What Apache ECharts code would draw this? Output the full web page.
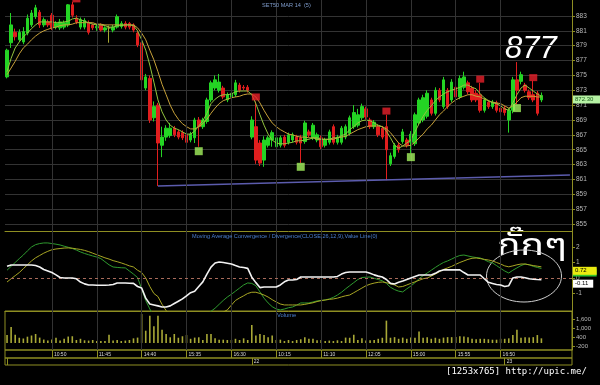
<!DOCTYPE html>
<html><head><meta charset="utf-8">
<script src="https://cdn.jsdelivr.net/npm/echarts@6/dist/echarts.min.js"></script>
<style>html,body{margin:0;padding:0;background:#000;}#c{width:600px;height:385px;}</style>
</head><body><div id="c"></div>
<script>
// ---- time axis (5-minute bars, TFEX sessions) ----
const sessions = [['09:55','12:25'],['14:30','16:50'],['09:45','12:25'],['14:30','16:50'],['09:45','10:30']];
const timeLabelIdx = [11,22,33,44,55,66,77,88,99,110,121];
const dayStarts = [0,60,122];
const dayLabels = ['','22','23'];
const padSlots = 7;

// ---- price bars ----
const opens = [874.8,879.4,880.8,879.8,879.5,880.7,881.8,882.9,883.5,881.8,
882.2,883.1,881.5,881.4,881.5,881.8,884.5,882.7,881.5,881.5,
882.1,881.8,881.4,881.8,881.1,881.4,881.1,881.5,881.6,882.0,
882.0,881.8,880.7,879.4,873.3,874.6,869.3,871.0,865.6,866.7,
866.9,867.9,867.4,867.3,867.0,866.3,866.6,869.0,868.1,868.8,
871.7,873.3,873.0,873.3,871.7,872.1,872.4,873.7,873.4,873.4,
866.7,868.1,865.9,863.6,865.6,866.3,865.4,865.6,866.7,866.0,
866.3,866.7,866.6,866.1,867.4,866.6,866.3,866.6,865.6,866.0,
868.1,866.0,866.0,866.7,867.2,868.1,868.3,869.3,870.5,869.0,
868.1,868.1,867.9,868.1,863.1,864.1,865.6,866.1,866.3,866.0,
865.8,868.6,869.0,869.5,871.7,869.9,873.0,870.8,873.0,871.7,
873.4,872.1,873.4,874.0,873.3,872.6,872.4,870.3,871.4,870.8,
871.3,870.6,870.6,869.0,870.3,874.4,874.2,873.7,872.8,872.4,
872.6,871.7];
const closes = [878.4,881.8,880.2,880.8,880.9,882.7,883.4,884.1,881.8,882.5,
881.8,881.4,882.0,882.2,882.1,884.5,883.1,882.2,882.5,882.4,
880.8,881.4,881.6,881.1,881.4,881.4,881.5,882.9,882.0,881.5,
881.5,881.1,879.1,874.4,874.8,869.0,870.8,865.9,866.7,867.9,
867.9,867.0,866.7,866.6,866.0,867.1,869.0,868.1,869.0,871.7,
874.0,874.4,874.1,872.1,872.4,872.6,874.0,873.0,873.3,873.0,
869.0,863.6,863.2,866.3,866.6,867.3,866.6,866.6,865.6,867.0,
867.0,866.0,865.9,868.6,867.0,868.3,867.0,865.4,866.3,867.4,
866.0,866.7,867.9,868.1,869.3,870.0,869.7,870.8,869.4,868.1,
868.7,867.0,866.7,865.0,864.2,865.6,865.0,867.4,865.6,867.1,
869.7,871.7,872.0,872.6,869.9,873.0,871.7,874.4,870.8,874.1,
872.1,874.6,874.8,872.8,871.7,871.7,870.3,871.7,870.8,871.4,
870.3,870.1,870.0,870.3,874.4,873.0,875.1,873.0,872.0,871.7,
869.9,872.3];
const highs = [878.6,883.4,881.3,881.2,881.5,883.2,883.8,884.5,883.8,882.8,
882.5,883.4,882.3,882.6,882.4,884.6,884.9,883.1,882.8,882.7,
882.4,882.0,881.9,882.0,881.6,881.7,881.8,883.2,882.3,882.3,
882.2,882.0,881.0,879.6,875.2,875.0,871.5,871.3,868.1,868.3,
868.6,868.2,867.7,867.6,867.2,867.4,869.3,869.4,869.3,872.0,
874.3,875.0,875.2,873.6,872.7,872.9,874.4,874.0,873.7,873.7,
869.5,871.5,866.3,866.8,866.9,867.6,866.9,866.9,867.0,867.3,
867.3,867.0,867.0,868.9,867.7,868.6,867.3,866.9,866.6,867.7,
868.4,867.0,868.2,868.4,869.6,871.0,870.5,871.2,870.8,869.3,
869.0,868.4,868.2,869.7,864.6,865.9,865.9,867.8,866.6,867.5,
870.0,872.0,872.4,873.0,872.0,873.4,873.3,874.8,873.3,874.5,
873.7,875.0,875.5,874.3,873.6,873.0,874.0,872.0,871.7,871.7,
871.6,870.9,870.9,870.6,874.8,876.8,875.5,874.0,873.1,874.3,
872.9,872.7];
const lows = [874.6,878.7,879.7,879.5,879.2,880.4,881.5,882.6,881.4,881.5,
881.5,881.1,881.2,881.1,881.2,881.5,882.8,881.9,881.2,881.2,
880.5,881.1,881.0,880.9,880.8,879.4,880.8,881.3,881.3,881.2,
881.2,880.8,878.8,874.0,873.0,868.6,868.8,860.1,864.0,866.2,
866.6,866.7,866.4,866.3,865.6,866.0,865.9,865.4,867.8,868.5,
871.4,873.0,872.7,871.8,871.4,871.8,872.1,872.7,873.0,872.7,
866.4,863.1,862.8,862.7,865.3,865.4,865.1,865.3,865.3,865.7,
866.0,865.7,863.2,865.8,866.7,866.3,866.0,865.1,865.3,865.7,
865.7,865.7,865.7,866.4,866.9,867.8,868.0,869.0,869.1,867.8,
867.8,866.7,866.4,860.9,862.8,863.8,864.6,865.8,865.3,864.5,
865.5,868.3,868.7,869.2,869.6,869.6,871.4,870.5,870.5,871.4,
871.8,871.8,873.1,872.5,871.4,871.4,870.0,870.0,870.5,870.5,
870.0,869.8,869.6,867.3,869.9,871.1,873.8,872.7,871.7,871.4,
869.6,871.4];
const maFast = [875.5,877.3,878.7,879.5,880.2,880.7,881.3,881.8,882.2,882.2,
882.2,882.2,882.1,882.1,882.2,882.3,882.6,882.7,882.5,882.3,
882.1,881.9,881.8,881.8,881.7,881.5,881.5,881.7,881.7,881.8,
881.8,881.7,881.0,879.8,878.4,876.4,874.1,871.7,870.1,869.0,
868.3,867.9,867.7,867.4,867.1,867.1,867.5,868.2,868.9,869.9,
871.2,871.8,872.2,872.4,872.4,872.5,872.8,872.9,872.9,872.9,
872.4,871.2,869.7,868.3,867.1,866.3,865.9,865.8,865.8,865.9,
866.0,866.2,866.2,866.3,866.4,866.6,866.6,866.4,866.4,866.4,
866.6,866.6,866.9,867.1,867.7,868.1,868.6,868.9,869.0,868.9,
868.6,868.3,868.1,867.5,866.6,865.6,865.2,865.5,865.9,866.3,
867.4,868.5,869.5,870.3,870.9,871.6,872.1,872.5,872.8,873.0,
873.2,873.4,873.7,873.7,873.4,873.2,872.5,872.0,871.6,871.3,
871.2,870.9,870.5,870.3,871.3,872.4,873.3,873.7,873.3,872.9,
872.5,872.2];
const maSlow = [875.1,876.0,876.9,877.9,878.7,879.2,879.8,880.3,880.7,881.0,
881.2,881.4,881.5,881.7,881.8,881.8,881.9,882.1,882.1,882.1,
882.1,882.1,881.9,881.9,881.8,881.8,881.8,881.8,881.8,881.8,
881.8,881.8,881.4,880.7,879.8,878.4,877.1,875.5,873.8,872.4,
871.0,869.9,869.1,868.5,868.1,867.8,867.8,868.1,868.5,869.1,
869.9,870.6,871.2,871.6,871.8,872.0,872.1,872.2,872.4,872.5,
872.5,872.1,871.3,870.3,869.4,868.6,868.1,867.7,867.4,867.1,
867.0,866.8,866.7,866.7,866.6,866.6,866.4,866.4,866.4,866.4,
866.4,866.6,866.7,866.8,867.1,867.4,867.7,867.9,868.1,868.2,
868.2,868.2,868.1,867.8,867.3,866.6,865.9,865.5,865.5,865.6,
866.0,866.6,867.1,867.8,868.3,869.0,869.7,870.2,870.8,871.3,
871.7,872.0,872.2,872.4,872.4,872.2,872.1,871.8,871.6,871.4,
871.3,871.2,870.9,870.6,870.9,871.4,872.0,872.2,872.2,872.2,
872.1,872.1];
const sellSignals = [[17,885.3],[61,872.1],[93,870.2],[116,874.5],[129,874.7]];
const buySignals = [[47,864.8],[72,862.7],[99,864.0],[125,870.6]];
const trendLine = [[37,860.1],[138,861.6]];
const lastPrice = 872.30;
const priceTicks = [855,857,859,861,863,865,867,869,871,873,875,877,879,881,883];

// ---- MACD panel ----
const macdWhite = [0.75,0.84,0.84,0.84,0.84,0.84,0.84,0.80,0.71,0.55,
0.45,0.35,0.20,0.03,0.00,0.00,0.00,-0.05,-0.26,-0.38,
-0.45,-0.45,-0.47,-0.47,-0.47,-0.45,-0.42,-0.32,-0.32,-0.32,
-0.34,-0.35,-0.55,-0.65,-1.30,-1.68,-1.74,-1.80,-1.87,-1.87,
-1.80,-1.65,-1.50,-1.35,-1.15,-0.95,-0.85,-0.55,-0.25,0.25,
0.70,0.97,1.03,1.00,0.95,0.90,0.80,0.71,0.68,0.62,
0.05,-0.30,-0.62,-0.58,-0.58,-0.58,-0.58,-0.45,-0.25,-0.13,
-0.13,-0.10,0.06,0.06,0.06,0.06,0.06,0.06,0.06,0.06,
0.06,0.10,0.25,0.35,0.39,0.39,0.39,0.39,0.39,0.30,
0.20,0.12,0.06,-0.10,-0.35,-0.39,-0.28,-0.20,-0.10,0.00,
0.10,0.19,0.19,0.19,0.19,0.30,0.45,0.52,0.52,0.52,
0.52,0.52,0.35,0.19,0.19,0.19,0.19,-0.05,-0.28,-0.35,
-0.42,-0.45,-0.55,-0.50,0.00,0.06,0.06,0.02,-0.05,-0.08,
-0.10,-0.11];
const macdGreen = [0.50,0.75,1.00,1.25,1.48,1.75,2.00,2.15,2.22,2.26,
2.26,2.22,2.18,2.13,2.05,1.98,1.90,1.80,1.68,1.58,
1.50,1.42,1.35,1.25,1.05,0.85,0.71,0.68,0.66,0.65,
0.45,0.25,0.03,-0.70,-1.45,-2.00,-2.45,-2.80,-3.10,-3.30,
-3.45,-3.50,-3.45,-3.35,-3.20,-3.00,-2.85,-2.70,-2.55,-2.35,
-2.15,-1.95,-1.70,-1.45,-1.23,-1.05,-0.85,-0.65,-0.45,-0.32,
-0.35,-0.50,-0.90,-1.30,-1.61,-1.85,-2.00,-2.06,-2.00,-1.92,
-1.87,-1.75,-1.61,-1.61,-1.61,-1.55,-1.48,-1.45,-1.42,-1.35,
-1.25,-1.10,-0.92,-0.70,-0.50,-0.30,-0.10,0.03,0.05,0.06,
-0.02,-0.10,-0.18,-0.35,-0.60,-0.75,-0.85,-0.90,-0.70,-0.52,
-0.30,-0.05,0.15,0.32,0.50,0.68,0.85,1.00,1.10,1.22,
1.35,1.45,1.48,1.42,1.36,1.32,1.29,1.18,1.05,0.97,
0.80,0.62,0.45,0.32,0.50,0.65,0.80,0.90,0.85,0.75,
0.68,0.61];
const macdOlive = [-0.26,-0.05,0.15,0.35,0.60,0.85,1.10,1.30,1.45,1.60,
1.72,1.82,1.87,1.90,1.93,1.94,1.92,1.88,1.84,1.78,
1.70,1.60,1.50,1.40,1.30,1.22,1.12,1.05,0.97,0.88,
0.78,0.71,0.50,0.35,0.00,-0.55,-1.00,-1.20,-1.70,-2.10,
-2.40,-2.65,-2.85,-3.00,-3.10,-3.15,-3.15,-3.10,-3.00,-2.90,
-2.75,-2.60,-2.40,-2.20,-2.06,-1.75,-1.45,-1.29,-1.15,-1.00,
-0.92,-0.92,-1.00,-1.10,-1.23,-1.40,-1.55,-1.68,-1.74,-1.74,
-1.74,-1.74,-1.74,-1.70,-1.65,-1.60,-1.52,-1.46,-1.42,-1.38,
-1.35,-1.30,-1.22,-1.15,-1.10,-0.95,-0.80,-0.65,-0.50,-0.40,
-0.33,-0.28,-0.26,-0.30,-0.38,-0.45,-0.58,-0.55,-0.45,-0.35,
-0.25,-0.15,-0.05,0.00,0.12,0.25,0.40,0.55,0.65,0.75,
0.88,1.00,1.10,1.20,1.27,1.29,1.25,1.20,1.16,1.10,
1.00,0.90,0.78,0.72,0.78,0.85,0.90,0.90,0.85,0.80,
0.76,0.72];
const macdTicks = [-1,0,1,2];
const macdLabels = {olive: 0.72, green: 0.61, white: -0.11};

// ---- volume panel ----
const volumes = [533,1067,550,350,300,420,500,600,360,230,
160,230,350,160,280,430,450,200,280,180,
160,200,130,130,130,550,160,200,130,160,
200,310,360,1930,820,1820,1110,1820,890,600,
380,600,350,450,530,280,360,380,200,600,
600,310,220,220,200,200,280,200,310,200,
1200,500,600,530,380,500,200,220,130,200,
130,200,250,380,280,280,180,200,130,160,
130,180,130,360,350,550,200,310,160,180,
200,280,350,1490,350,390,280,360,280,360,
350,760,350,390,280,350,280,360,390,390,
400,450,430,390,280,250,280,280,250,220,
220,280,280,310,530,890,350,390,360,390,
530,310];
const volTicks = [-200,400,1000,1600];

// ---- build categories ----
function toMin(s){const p=s.split(':');return (+p[0])*60+(+p[1]);}
function toStr(m){const h=Math.floor(m/60),mm=m%60;return h+':'+(mm<10?'0':'')+mm;}
const times = [];
sessions.forEach(s=>{for(let m=toMin(s[0]);m<=toMin(s[1]);m+=5)times.push(toStr(m));});
const categories = times.concat(new Array(padSlots).fill(''));

const OLIVE = '#8e8e22';
const GRIDC = '#333333';
const LBL = '#b8b8b8';
const FONT = '"Liberation Sans", Arial, sans-serif';

const candleData = opens.map((o,i)=>[o,closes[i],lows[i],highs[i]]);
const vGrid = timeLabelIdx.map(i=>({xAxis:i}));

function hiddenX(g){return {type:'category',gridIndex:g,data:categories,boundaryGap:true,
  axisLine:{show:false,onZero:false},axisTick:{show:false},axisLabel:{show:false},splitLine:{show:false}};}
function gridSeries(xi){return {type:'line',xAxisIndex:xi,yAxisIndex:xi,data:[],z:1,silent:true,
  markLine:{silent:true,symbol:'none',animation:false,label:{show:false},
    lineStyle:{color:GRIDC,type:'solid',width:1},data:vGrid}};}
function valueLabel(val,text,bg,fg,padR){return {yAxis:val,label:{show:true,position:'end',distance:1,
  formatter:text,backgroundColor:bg,color:fg,fontSize:6,fontFamily:FONT,padding:[1,padR,1,2],offset:[0,4]},
  lineStyle:{color:'rgba(0,0,0,0)',width:0,type:'solid'}};}

const chart = echarts.init(document.getElementById('c'),null,{renderer:'canvas'});
chart.setOption({
  backgroundColor:'#000',
  animation:false,
  title:[
    {text:'SET50 MAR 14  (5)',left:262,top:2,padding:0,textStyle:{color:'#7f9ccc',fontSize:5.6,fontWeight:'normal',fontFamily:FONT}},
    {text:'Moving Average Convergence / Divergence(CLOSE,26,12,9),Value Line(0)',left:192,top:233,padding:0,textStyle:{color:'#4a7fd0',fontSize:5.6,fontWeight:'normal',fontFamily:FONT}},
    {text:'Volume',left:277,top:312,padding:0,textStyle:{color:'#4a7fd0',fontSize:5.8,fontWeight:'normal',fontFamily:FONT}}
  ],
  grid:[
    {left:5,right:28,top:0,height:231},
    {left:5,right:28,top:231,height:80},
    {left:5,right:28,top:311,height:39,show:true,borderColor:OLIVE,borderWidth:1,backgroundColor:'transparent'},
    {left:5,right:28,top:350,height:8,show:true,borderColor:OLIVE,borderWidth:1,backgroundColor:'transparent'},
    {left:5,right:28,top:358,height:7,show:true,borderColor:OLIVE,borderWidth:1,backgroundColor:'transparent'}
  ],
  xAxis:[
    Object.assign(hiddenX(0),{axisLine:{show:true,onZero:false,lineStyle:{color:OLIVE}}}),
    Object.assign(hiddenX(1),{axisLine:{show:true,onZero:false,lineStyle:{color:OLIVE}}}),
    hiddenX(2),
    {type:'category',gridIndex:3,data:categories,boundaryGap:true,position:'bottom',
      axisLine:{show:false,onZero:false},
      axisTick:{show:true,inside:true,length:8,alignWithLabel:true,interval:(i)=>timeLabelIdx.indexOf(i)>=0,lineStyle:{color:OLIVE}},
      axisLabel:{show:true,inside:true,margin:1,align:'left',verticalAlign:'bottom',padding:[0,0,0,2],
        interval:(i)=>timeLabelIdx.indexOf(i)>=0,color:'#d8d8d8',fontSize:5,fontFamily:FONT},
      splitLine:{show:false}},
    {type:'category',gridIndex:4,data:categories,boundaryGap:true,position:'bottom',
      axisLine:{show:false,onZero:false},
      axisTick:{show:true,inside:true,length:7,alignWithLabel:true,interval:(i)=>dayStarts.indexOf(i)>=0,lineStyle:{color:OLIVE}},
      axisLabel:{show:true,inside:true,margin:1,align:'left',verticalAlign:'bottom',padding:[0,0,0,2],
        interval:(i)=>dayStarts.indexOf(i)>=0,
        formatter:(v,i)=>{const k=dayStarts.indexOf(i);return k>=0?dayLabels[k]:'';},
        color:'#d8d8d8',fontSize:5,fontFamily:FONT},
      splitLine:{show:false}}
  ],
  yAxis:[
    {type:'value',gridIndex:0,position:'right',min:854.06,max:885.15,
      axisLine:{show:true,lineStyle:{color:OLIVE}},
      axisTick:{show:true,length:3,customValues:priceTicks,lineStyle:{color:OLIVE}},
      axisLabel:{show:true,customValues:priceTicks,color:LBL,fontSize:6.5,fontFamily:FONT,margin:4},
      splitLine:{show:true,lineStyle:{color:GRIDC,width:1}}},
    {type:'value',gridIndex:1,position:'right',min:-2.13,max:3.03,
      axisLine:{show:true,lineStyle:{color:OLIVE}},
      axisTick:{show:true,length:3,customValues:macdTicks,lineStyle:{color:OLIVE}},
      axisLabel:{show:true,customValues:macdTicks,color:LBL,fontSize:6.5,fontFamily:FONT,margin:4},
      splitLine:{show:false}},
    {type:'value',gridIndex:2,position:'right',min:-467,max:2133,
      axisLine:{show:true,lineStyle:{color:OLIVE}},
      axisTick:{show:true,length:3,customValues:volTicks,lineStyle:{color:OLIVE}},
      axisLabel:{show:true,customValues:volTicks,color:LBL,fontSize:6,fontFamily:FONT,margin:4,
        formatter:(v)=>Number(v).toLocaleString('en-US')},
      splitLine:{show:false}},
    {type:'value',gridIndex:3,show:false},
    {type:'value',gridIndex:4,show:false}
  ],
  series:[
    gridSeries(0),
    {type:'candlestick',xAxisIndex:0,yAxisIndex:0,data:candleData,barWidth:3,z:3,
      itemStyle:{color:'#24d424',color0:'#e01e1e',borderColor:'#24d424',borderColor0:'#e01e1e',borderColorDoji:'#a6a632',borderWidth:1},
      markLine:{silent:true,symbol:'none',animation:false,data:[valueLabel(lastPrice,'872.30','#b6f2a4','#1d5a1d',8)]}},
    {type:'line',xAxisIndex:0,yAxisIndex:0,data:maSlow,showSymbol:false,z:4,lineStyle:{color:'#c8a23a',width:1}},
    {type:'line',xAxisIndex:0,yAxisIndex:0,data:maFast,showSymbol:false,z:4,lineStyle:{color:'#93c43e',width:1}},
    {type:'line',xAxisIndex:0,yAxisIndex:0,data:trendLine,showSymbol:false,z:4,lineStyle:{color:'#5c5cae',width:1.5}},
    {type:'scatter',xAxisIndex:0,yAxisIndex:0,data:sellSignals,symbol:'rect',symbolSize:[8,7],clip:false,z:6,itemStyle:{color:'#e8202a'}},
    {type:'scatter',xAxisIndex:0,yAxisIndex:0,data:buySignals,symbol:'rect',symbolSize:[8,8],clip:false,z:6,itemStyle:{color:'#a4f25e'}},

    gridSeries(1),
    {type:'line',xAxisIndex:1,yAxisIndex:1,data:[],z:2,silent:true,
      markLine:{silent:true,symbol:'none',animation:false,label:{show:false},
        lineStyle:{color:'#a86a5a',type:[3,3],width:1},
        data:[{yAxis:0}]}},
    {type:'line',xAxisIndex:1,yAxisIndex:1,data:macdWhite,showSymbol:false,z:5,lineStyle:{color:'#f2f2f2',width:1.6},
      markLine:{silent:true,symbol:'none',animation:false,data:[valueLabel(macdLabels.white,'-0.11','#ffffff','#000000',5)]}},
    {type:'line',xAxisIndex:1,yAxisIndex:1,data:macdGreen,showSymbol:false,z:4,lineStyle:{color:'#2f9a2f',width:1},
      markLine:{silent:true,symbol:'none',animation:false,data:[valueLabel(macdLabels.green,'0.61','#2fc42f','#000000',10)]}},
    {type:'line',xAxisIndex:1,yAxisIndex:1,data:macdOlive,showSymbol:false,z:4,lineStyle:{color:'#a8a624',width:1},
      markLine:{silent:true,symbol:'none',animation:false,data:[valueLabel(macdLabels.olive,'0.72','#eaea10','#000000',10)]}},

    gridSeries(2),
    {type:'bar',xAxisIndex:2,yAxisIndex:2,data:volumes,barWidth:1.6,itemStyle:{color:'#a8a836'},z:3}
  ],
  graphic:[
    {type:'text',left:505,top:34,silent:true,style:{text:'877',fill:'#ffffff',fontSize:31,fontStyle:'italic',fontFamily:FONT}},
    {type:'text',x:497,y:234,scaleX:1.3,silent:true,style:{text:'กั๊กๆ',fill:'#ffffff',fontSize:30,textVerticalAlign:'top',fontFamily:'"Noto Sans Thai","Noto Serif Thai","Noto Looped Thai",Loma,Garuda,"Tlwg Typo",sans-serif'}},
    {type:'ellipse',silent:true,shape:{cx:524,cy:276,rx:37.5,ry:26},style:{fill:'none',stroke:'#cfcfcf',lineWidth:1}},
    {type:'text',left:446,top:367,silent:true,style:{text:'[1253x765] http://upic.me/',fill:'#ffffff',fontSize:9,fontFamily:'"DejaVu Sans Mono","Liberation Mono",monospace'}}
  ]
});
</script>
</body></html>
